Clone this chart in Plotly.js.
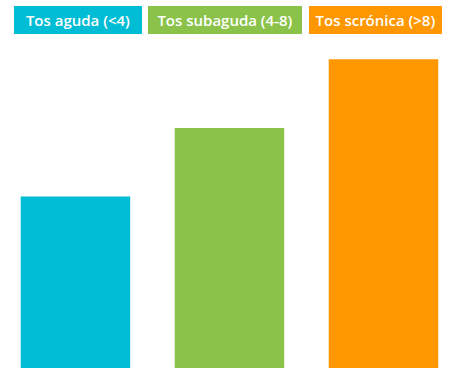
<!DOCTYPE html>
<html>
<head>
<meta charset="utf-8">
<script src="https://cdn.plot.ly/plotly-3.0.1.min.js"></script>
<style>html,body{margin:0;padding:0;background:#fff;}#chart{width:450px;height:375px;}</style>
</head>
<body>
<div id="chart"></div>
<script>
const categories = ["Tos aguda (&lt;4)", "Tos subaguda (4-8)", "Tos scrónica (&gt;8)"];
const values = [5, 7, 9];
const colors = ["#00BCD4", "#8BC34A", "#FF9800"];

const xs = categories.map((c, i) => i);
const trace = {
  type: "bar",
  x: xs,
  y: values,
  width: 0.711,
  marker: { color: colors, line: { width: 0 } },
  hoverinfo: "skip"
};

// label boxes: [center px, width px]
const boxes = [[78, 128], [225, 154], [375.5, 133]];
const annotations = categories.map((c, i) => ({
  text: c,
  xref: "paper", yref: "paper",
  x: boxes[i][0] / 450, y: (368 - 20) / 368,
  xanchor: "center", yanchor: "middle",
  showarrow: false,
  bgcolor: colors[i],
  width: boxes[i][1],
  height: 28,
  borderpad: 0,
  borderwidth: 0,
  font: { family: "Open Sans, sans-serif", size: 15, color: "#ffffff", weight: 600 }
}));

const layout = {
  width: 450, height: 375,
  margin: { l: 0, r: 0, t: 0, b: 7 },
  paper_bgcolor: "#ffffff", plot_bgcolor: "#ffffff",
  showlegend: false,
  xaxis: { range: [-0.49, 2.432], visible: false, fixedrange: true },
  yaxis: { range: [0, 10.73], visible: false, fixedrange: true },
  annotations: annotations
};
Plotly.newPlot("chart", [trace], layout, { staticPlot: true, displayModeBar: false });
</script>
</body>
</html>
